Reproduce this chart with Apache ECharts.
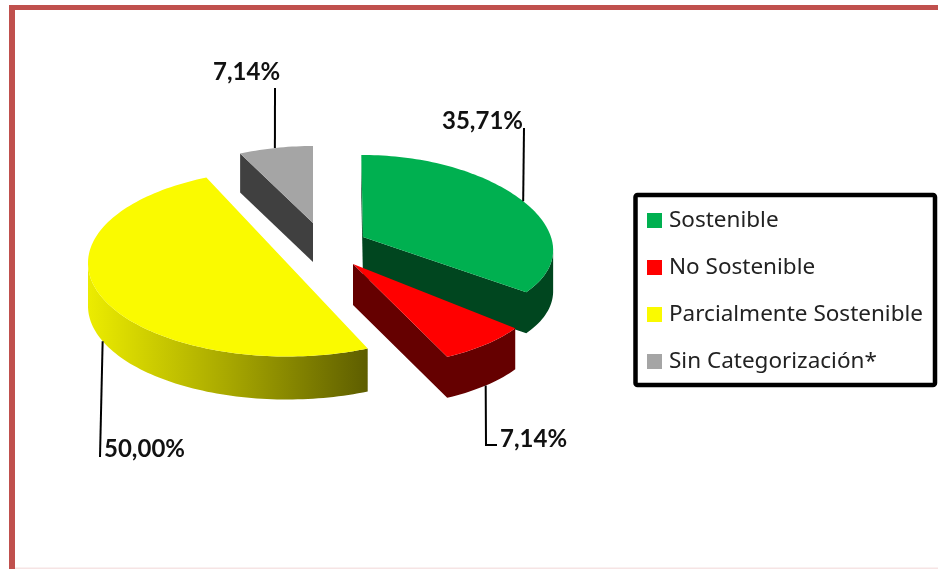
<!DOCTYPE html>
<html><head><meta charset="utf-8">
<style>html,body{margin:0;padding:0;background:#fff}#c{width:938px;height:569px}</style>
<script src="https://cdn.jsdelivr.net/npm/echarts@6/dist/echarts.min.js"></script>
</head><body><div id="c"></div>
<script>
const categories = ['Sostenible','No Sostenible','Parcialmente Sostenible','Sin Categorización*'];
const values = [35.71, 7.14, 50.00, 7.14];
const topColors = ['#00B050','#FF0000','#FAFA00','#A5A5A5'];

// presentation only
const total = values.reduce((a,b)=>a+b,0);
const startDeg = 0;
const sliceLayout = [
  {ax:363, ay:237, rx:188, ry:86.6, px:0.15, py:0.056, rot:-0.6, d:41, z:3, wall:'#00461f', anchor:0.51, drop:0,
   leader:[[524,128]], label:[442,121,'left']},
  {ax:353, ay:264, rx:189, ry:103, px:0.143, py:0, rot:0, d:41, z:4, wall:'#650000', anchor:0.5, drop:1,
   leader:[[486,445],[497,445]], label:[500,439,'left']},
  {ax:287, ay:263, rx:199, ry:93.5, px:0, py:0, rot:1.8, d:43, z:2, wall:{type:'linear',x:88,y:0,x2:367,y2:0,global:true,
     colorStops:[{offset:0,color:'#ecec00'},{offset:0.5,color:'#a8a800'},{offset:1,color:'#5e5e00'}]},
   anchor:0.51, drop:1, leader:[[100,457]], label:[104,449,'left']},
  {ax:313, ay:223, rx:168, ry:77, px:0, py:0, rot:0, d:39, z:1, wall:'#404040', anchor:0.49, drop:0,
   leader:[[275,88]], label:[213,72,'left']}
];

function project(L, deg){
  const t = deg*Math.PI/180, u = Math.sin(t), v = -Math.cos(t);
  return [L.ax + L.rx*u/(1-L.px*v), L.ay + L.ry*v/(1-L.py*v)];
}
function slicePoints(L, a0, a1){
  const pts = [[L.ax,L.ay]], n = Math.max(8,Math.ceil((a1-a0)/1.5));
  for(let i=0;i<=n;i++) pts.push(project(L, a0+(a1-a0)*i/n));
  return pts;
}
function renderSlice(idx){
  return function(params, api){
    const L = sliceLayout[idx];
    let a0 = startDeg + L.rot;
    for(let i=0;i<idx;i++) a0 += values[i]/total*360;
    const a1 = a0 + api.value(0)/total*360;
    const pts = slicePoints(L,a0,a1);
    const children = [];
    // walls: every run of outline edges facing the viewer is extruded downward
    const closed = pts.concat([pts[0]]);
    let run = null; const runs = [];
    for(let i=0;i<closed.length-1;i++){
      const a = closed[i], b = closed[i+1];
      if(b[0]-a[0] < 0){
        if(!run){run=[a];runs.push(run);}
        run.push(b);
      } else run = null;
    }
    runs.forEach(r=>{
      const poly = r.concat(r.slice().reverse().map(p=>[p[0],p[1]+L.d]));
      children.push({type:'polygon',shape:{points:poly},z2:1,
        style:{fill:L.wall,stroke:null}});
    });
    children.push({type:'polygon',shape:{points:pts},z2:2,style:{fill:topColors[idx]}});
    // leader line + label
    const anc = project(L, a0+(a1-a0)*L.anchor);
    const start = [anc[0], anc[1]+(L.drop?L.d:0)];
    children.push({type:'polyline',shape:{points:[start].concat(L.leader)},z2:3,
      style:{stroke:'#000',lineWidth:2,fill:null}});
    children.push({type:'text',z2:4,x:L.label[0],y:L.label[1],
      style:{text:api.value(0).toFixed(2).replace('.',',')+'%',
        font:'bold 24px Lato',fill:'#111',textAlign:L.label[2],textVerticalAlign:'middle'}});
    return {type:'group',children};
  };
}
const chart = echarts.init(document.getElementById('c'));
chart.setOption({
  animation:false,
  backgroundColor:'#fff',
  legend:{
    data:categories, orient:'vertical', left:640, top:204,
    padding:[5,5,5,7], icon:'rect', itemWidth:15, itemHeight:15, itemGap:24, selectedMode:false,
    textStyle:{fontFamily:'Noto Sans',fontSize:22.5,color:'#222',padding:[0,0,0,2]}
  },
  graphic:[
    {type:'rect',silent:true,shape:{x:9,y:5,width:6,height:564},style:{fill:'#C0504D'}},
    {type:'rect',silent:true,shape:{x:9,y:5,width:929,height:5},style:{fill:'#C0504D'}},
    {type:'rect',silent:true,shape:{x:15,y:567.5,width:923,height:1.5},style:{fill:'#f6e4e4'}},
    {type:'rect',silent:true,shape:{x:635.5,y:195,width:299.5,height:190,r:2},
      style:{fill:null,stroke:'#000',lineWidth:4.5}}
  ],
  series: categories.map((name,i)=>({
    type:'custom', name, coordinateSystem:'none', silent:true,
    z:2+sliceLayout[i].z, clip:false,
    itemStyle:{color:topColors[i]},
    encode:{value:0}, data:[[values[i]]],
    renderItem:renderSlice(i)
  }))
});
</script></body></html>
